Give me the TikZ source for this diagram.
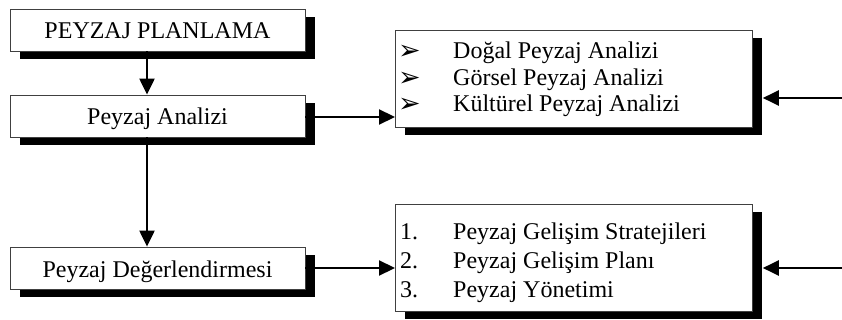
\documentclass[tikz,border=0pt]{standalone}
\usepackage{fontspec}
\setmainfont{Liberation Serif}
\newfontfamily\dejavu{DejaVu Sans}
\usetikzlibrary{arrows.meta,shadows}
\begin{document}
\begin{tikzpicture}[x=1pt,y=-1pt,
  font=\fontsize{24}{28}\selectfont,
  box/.style={draw=black!75,line width=0.8pt,fill=white,inner sep=0pt,
    drop shadow={shadow xshift=10pt,shadow yshift=-8pt,fill=black,opacity=1}},
  flowbox/.style={box,minimum width=295pt,minimum height=42pt,text height=19pt,text depth=1pt},
  listbox/.style={box,minimum width=357pt,anchor=north west},
  arr/.style={line width=2.2pt,-{Triangle[length=16pt,width=15pt]}},
  item/.style={anchor=base west,inner sep=0pt},
  bul/.style={item,font=\dejavu\fontsize{27}{28}\selectfont,text height=14pt,text depth=0pt}]
\useasboundingbox (0,0) rectangle (842,320);
\node[flowbox] (plan) at (157.5,30) {PEYZAJ PLANLAMA};
\node[flowbox] (ana) at (157.5,116) {Peyzaj Analizi};
\node[flowbox] (deg) at (157.5,268) {Peyzaj Değerlendirmesi};
\node[listbox,minimum height=97pt] (lst) at (395,30) {};
\node[listbox,minimum height=107pt] (gel) at (395,204) {};
% list texts
\node[bul] (b1) at (398,60) {➢};
\node[bul] (b2) at (398,87) {➢};
\node[bul] (b3) at (398,113) {➢};
\node[item] (t1) at (453,59) {Doğal Peyzaj Analizi};
\node[item] (t2) at (453,86) {Görsel Peyzaj Analizi};
\node[item] (t3) at (453,112) {Kültürel Peyzaj Analizi};
\begin{scope}
\clip (395,204) rectangle (752,302);
\node[item] (n1) at (400,239) {1.};
\node[item] (n2) at (400,268) {2.};
\node[item] (n3) at (400,297) {3.};
\node[item] (g1) at (453,239) {Peyzaj Gelişim Stratejileri};
\node[item] (g2) at (453,268) {Peyzaj Gelişim Planı};
\node[item] (g3) at (453,297) {Peyzaj Yönetimi};
\end{scope}
% connectors
\draw[arr] (plan.south -| 147,0) -- (ana.north -| 147,0);
\draw[arr] (ana.south -| 147,0) -- (deg.north -| 147,0);
\coordinate (la) at (395,117);
\draw[arr] (ana.east |- la) -- (la);
\draw[arr] (deg.east) -- (deg.east -| gel.west);
\coordinate (r1) at (842,98);
\coordinate (r2) at (842,268);
\coordinate (ls) at ([xshift=10pt]lst.east);
\coordinate (gs) at ([xshift=10pt]gel.east);
\draw[arr] (r1) -- (r1 -| ls);
\draw[arr] (r2) -- (r2 -| gs);
\end{tikzpicture}
\end{document}
